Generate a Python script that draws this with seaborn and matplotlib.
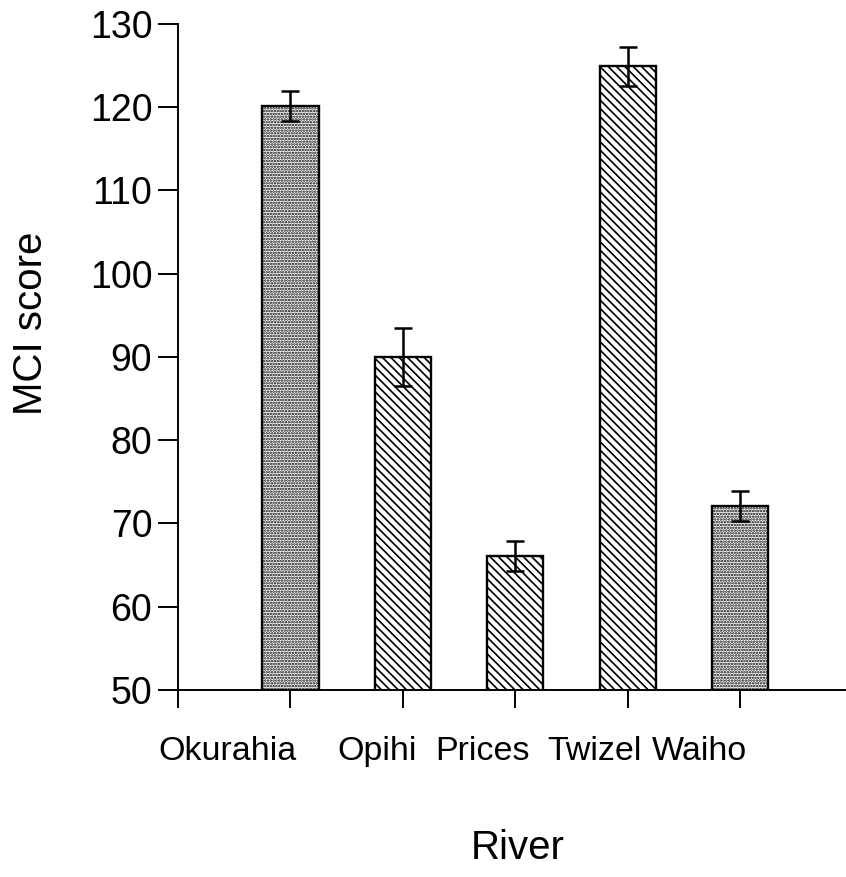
import matplotlib
matplotlib.use("Agg")
import matplotlib.pyplot as plt
import matplotlib.transforms as mtransforms
import seaborn as sns
import pandas as pd

# Mean MCI score per river with its standard error
rivers = ["Okurahia", "Opihi", "Prices", "Twizel", "Waiho"]
mci_mean = [120.2, 90.0, 66.1, 124.9, 72.1]
mci_err = [1.8, 3.5, 1.8, 2.3, 1.8]
bar_hatches = ["......", "\\\\\\\\", "\\\\\\\\", "\\\\\\\\", "......"]
y_ticks = [50, 60, 70, 80, 90, 100, 110, 120, 130]

df = pd.DataFrame({"River": rivers, "MCI score": mci_mean})

sns.set_theme(style="ticks")
plt.rcParams["font.family"] = ["Liberation Sans", "DejaVu Sans"]
plt.rcParams["hatch.linewidth"] = 1.2
plt.rcParams["hatch.color"] = "black"

fig = plt.figure(figsize=(8.46, 8.77), dpi=100)
ax = fig.add_axes([178 / 846, 1 - 690 / 877, 668 / 846, 666 / 877])

sns.barplot(data=df, x="River", y="MCI score", order=rivers, color="white",
            edgecolor="black", linewidth=1.7, width=0.5, errorbar=None, ax=ax)
for patch, h in zip(ax.patches, bar_hatches):
    patch.set_facecolor("white")
    patch.set_hatch(h)
    patch.set_edgecolor("black")

ax.errorbar(range(len(rivers)), mci_mean, yerr=mci_err, fmt="none",
            ecolor="black", elinewidth=1.8, capsize=6.5, capthick=1.8, zorder=5)

ax.set_xlim(-1, 4.94)
ax.set_ylim(50, 130)
ax.set_yticks(y_ticks)
ax.tick_params(axis="y", direction="out", length=14.5, width=1.4,
               labelsize=27, pad=4, colors="black")
ax.set_xticks([-1, 0, 1, 2, 3, 4])
ax.set_xticklabels([""] * 6)
ax.tick_params(axis="x", direction="out", length=13, width=1.4, colors="black")

sns.despine(ax=ax)
ax.spines["left"].set_bounds(50, 130)
for s in ("left", "bottom"):
    ax.spines[s].set_linewidth(1.4)
    ax.spines[s].set_color("black")

# River names sit slightly left of their ticks
label_x = [-0.56, 0.77, 1.71, 2.70, 3.64]
trans = mtransforms.blended_transform_factory(ax.transData, ax.transAxes)
for xpos, name in zip(label_x, rivers):
    ax.text(xpos, -0.0916, name, transform=trans, ha="center", va="center",
            fontsize=24.5, color="black")

ax.set_xlabel("River", fontsize=29, va="center", color="black")
ax.xaxis.set_label_coords(0.509, -0.237)
ax.set_ylabel("MCI score", fontsize=29, va="center", color="black")
ax.yaxis.set_label_coords(-0.22, 0.55)

fig.savefig("out.png", dpi=100, facecolor="white")
